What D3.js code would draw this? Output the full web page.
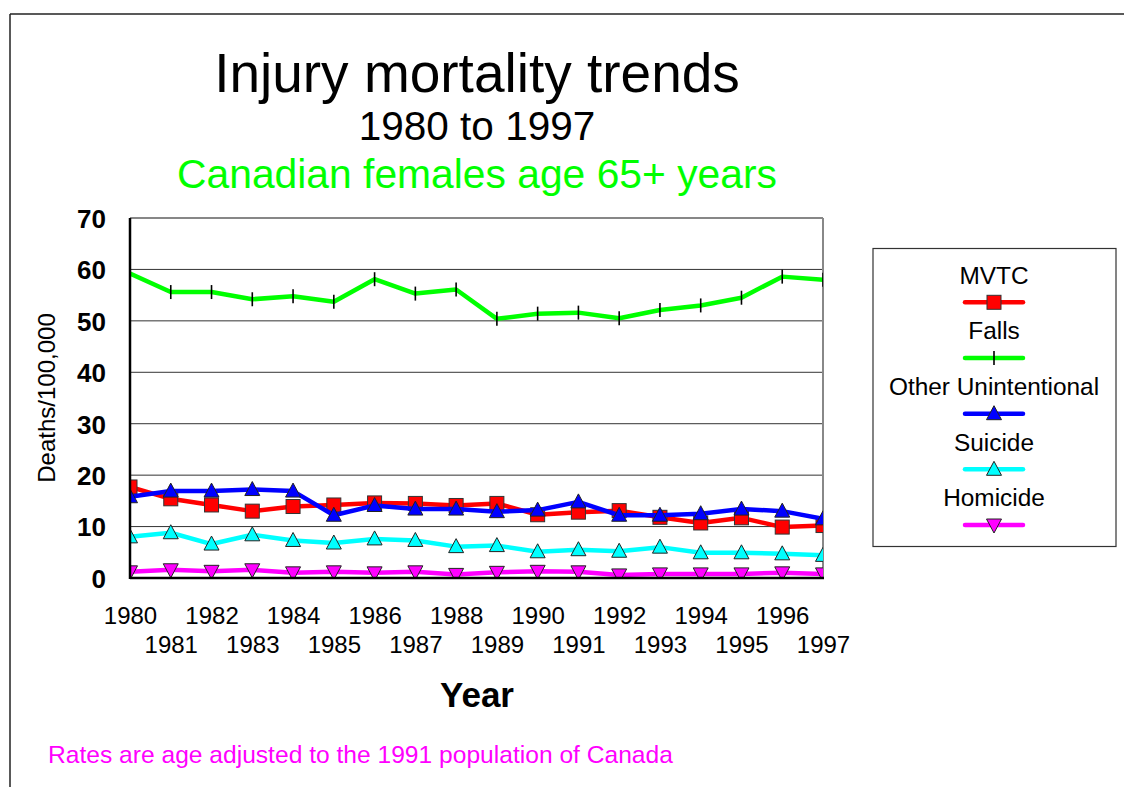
<!DOCTYPE html>
<html><head><meta charset="utf-8">
<script src="https://cdn.jsdelivr.net/npm/d3@7"></script>
<style>body{margin:0;background:#fff;}svg{display:block;font-family:Arial,"Liberation Sans",sans-serif;}</style>
</head><body>
<svg id="c" width="1124" height="787"></svg>
<script>
const years = [1980,1981,1982,1983,1984,1985,1986,1987,1988,1989,1990,1991,1992,1993,1994,1995,1996,1997];
const mvtc = [17.7,15.4,14.2,13.0,13.9,14.2,14.6,14.5,14.1,14.5,12.3,12.8,13.1,11.8,10.7,11.7,9.9,10.2];
const falls = [59.2,55.6,55.6,54.2,54.8,53.7,58.1,55.3,56.1,50.4,51.4,51.6,50.5,52.1,53.0,54.5,58.6,58.0];
const otherUnint = [15.8,16.9,16.9,17.2,16.9,12.2,14.1,13.4,13.4,12.9,13.2,14.8,12.2,12.2,12.5,13.4,13.0,11.5];
const suicide = [8.0,8.8,6.6,8.4,7.3,6.8,7.6,7.3,6.1,6.3,5.1,5.5,5.2,6.0,4.9,4.9,4.7,4.4];
const homicide = [1.2,1.6,1.3,1.6,1.0,1.2,1.0,1.2,0.7,1.1,1.3,1.2,0.6,0.8,0.8,0.8,1.0,0.8];
const seriesNames = ["MVTC","Falls","Other Unintentional","Suicide","Homicide"];
const yTicks = [0,10,20,30,40,50,60,70];

const series = [
  {name:seriesNames[0], values:mvtc, color:"#ff0000", marker:"square"},
  {name:seriesNames[1], values:falls, color:"#00ff00", marker:"tick"},
  {name:seriesNames[2], values:otherUnint, color:"#0000ff", marker:"up"},
  {name:seriesNames[3], values:suicide, color:"#00ffff", marker:"up"},
  {name:seriesNames[4], values:homicide, color:"#ff00ff", marker:"down"}
];

const svg = d3.select("#c");
const L=130, R=823, T=218, B=578;
const x = d3.scaleLinear().domain([1980,1997]).range([L,R]);
const y = d3.scaleLinear().domain([0,70]).range([B,T]);

// outer frame
svg.append("line").attr("x1",10).attr("x2",1124).attr("y1",14).attr("y2",14).attr("stroke","#222").attr("stroke-width",1.5);
svg.append("line").attr("x1",10).attr("x2",10).attr("y1",14).attr("y2",787).attr("stroke","#222").attr("stroke-width",1.5);

// titles
svg.append("text").attr("x",477).attr("y",92).attr("text-anchor","middle").attr("font-size",55).text("Injury mortality trends");
svg.append("text").attr("x",477).attr("y",140).attr("text-anchor","middle").attr("font-size",40.5).text("1980 to 1997");
svg.append("text").attr("x",477).attr("y",188).attr("text-anchor","middle").attr("font-size",40.8).attr("fill","#00ff00").text("Canadian females age 65+ years");

// gridlines
svg.append("g").selectAll("line").data(yTicks.filter(d=>d>0 && d<70)).join("line")
  .attr("x1",L).attr("x2",R).attr("y1",d=>y(d)).attr("y2",d=>y(d)).attr("stroke","#333").attr("stroke-width",1);
// plot border top & right
svg.append("line").attr("x1",L).attr("x2",R).attr("y1",T).attr("y2",T).attr("stroke","#111").attr("stroke-width",1.2);
svg.append("line").attr("x1",R).attr("x2",R).attr("y1",T).attr("y2",B).attr("stroke","#888").attr("stroke-width",2);

// y axis
const yAxis = d3.axisLeft(y).tickValues(yTicks).tickSize(0).tickPadding(24);
const gy = svg.append("g").attr("transform",`translate(${L},0)`).call(yAxis);
gy.select(".domain").remove();
gy.selectAll("text").attr("font-size",26).attr("font-weight","bold").attr("font-family","Arial, 'Liberation Sans', sans-serif").attr("fill","#000").attr("dy","0.36em");

// x axis (staggered labels)
const xAxis = d3.axisBottom(x).tickValues(years).tickFormat(d3.format("d")).tickSize(0);
const gx = svg.append("g").attr("transform",`translate(0,${B})`).call(xAxis);
gx.select(".domain").remove();
gx.selectAll("text").attr("font-size",24).attr("font-family","Arial, 'Liberation Sans', sans-serif").attr("fill","#000")
  .attr("dy",null).attr("y",(d,i)=> i%2===0 ? 46 : 74.5);

// clip
svg.append("clipPath").attr("id","pc").append("rect").attr("x",L).attr("y",T-10).attr("width",R-L).attr("height",B-T+10);
const plot = svg.append("g").attr("clip-path","url(#pc)");

const line = d3.line().x((d,i)=>x(years[i])).y(d=>y(d));

function drawMarker(g, type, color, cx, cy){
  if(type==="square"){
    g.append("rect").attr("x",cx-7).attr("y",cy-7).attr("width",14).attr("height",14).attr("fill",color).attr("stroke","#333").attr("stroke-width",1);
  } else if(type==="tick"){
    g.append("line").attr("x1",cx).attr("x2",cx).attr("y1",cy-7).attr("y2",cy+7).attr("stroke","#000").attr("stroke-width",1.6);
  } else if(type==="up"){
    g.append("path").attr("d",`M${cx},${cy-8}L${cx+7.5},${cy+6}L${cx-7.5},${cy+6}Z`).attr("fill",color).attr("stroke","#222").attr("stroke-width",1);
  } else if(type==="down"){
    g.append("path").attr("d",`M${cx},${cy+8}L${cx+7.5},${cy-6}L${cx-7.5},${cy-6}Z`).attr("fill",color).attr("stroke","#222").attr("stroke-width",1);
  }
}

series.forEach(s=>{
  const g = plot.append("g");
  g.append("path").datum(s.values).attr("d",line).attr("fill","none").attr("stroke",s.color).attr("stroke-width",4.5).attr("stroke-linejoin","round");
  s.values.forEach((v,i)=> drawMarker(g, s.marker, s.color, x(years[i]), y(v)));
});

// axes lines (on top)
svg.append("line").attr("x1",L).attr("x2",L).attr("y1",T).attr("y2",B+1).attr("stroke","#000").attr("stroke-width",2.5);
svg.append("line").attr("x1",L).attr("x2",R+1).attr("y1",B).attr("y2",B).attr("stroke","#000").attr("stroke-width",2.5);

// axis titles
svg.append("text").attr("x",477).attr("y",707).attr("text-anchor","middle").attr("font-size",35).attr("font-weight","bold").text("Year");
svg.append("text").attr("transform","translate(55,398) rotate(-90)").attr("text-anchor","middle").attr("font-size",24).text("Deaths/100,000");

// footnote
svg.append("text").attr("x",48).attr("y",763).attr("font-size",24.6).attr("fill","#ff00ff").text("Rates are age adjusted to the 1991 population of Canada");

// legend
const lg = svg.append("g");
lg.append("rect").attr("x",873).attr("y",248.5).attr("width",243).attr("height",298).attr("fill","#fff").attr("stroke","#333").attr("stroke-width",1.2);
const legTextY = [284,339,395,450.7,505.7];
const legLineY = [302.3,358,413.7,469.3,525];
series.forEach((s,i)=>{
  lg.append("text").attr("x",994).attr("y",legTextY[i]).attr("text-anchor","middle").attr("font-size",24.4).text(s.name);
  lg.append("line").attr("x1",965).attr("x2",1023).attr("y1",legLineY[i]).attr("y2",legLineY[i]).attr("stroke",s.color).attr("stroke-width",4.5).attr("stroke-linecap","round");
  drawMarker(lg, s.marker, s.color, 994, legLineY[i]);
});
</script>
</body></html>
